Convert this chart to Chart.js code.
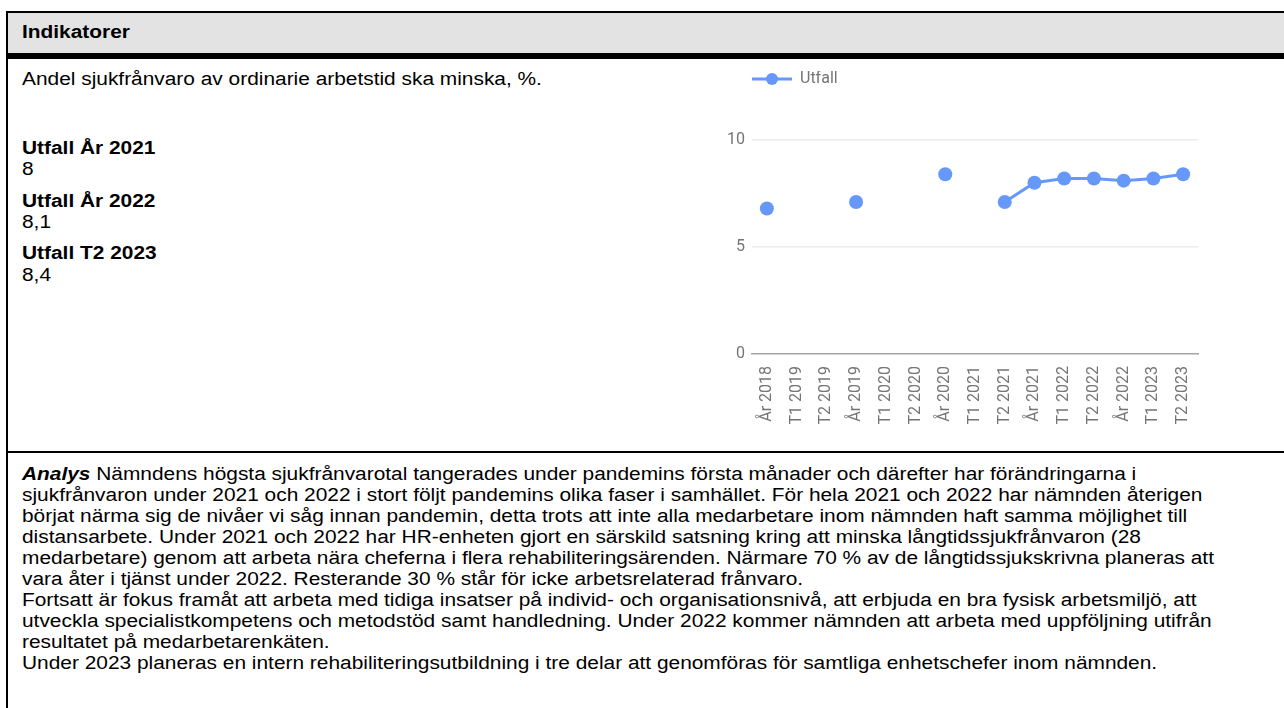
<!DOCTYPE html>
<html>
<head>
<meta charset="utf-8">
<script src="https://cdn.jsdelivr.net/npm/chart.js@4/dist/chart.umd.min.js"></script>
<style>
  html, body { margin: 0; padding: 0; background: #fff; }
  body { width: 1284px; height: 708px; position: relative; overflow: hidden;
         font-family: "Liberation Sans", Arial, sans-serif; color: #000; }
  .frame { position: absolute; left: 6px; top: 11px; width: 1300px; height: 720px;
           border-left: 2px solid #000; border-top: 2px solid #000; }
  .hdr { position: absolute; left: 0; top: 0; width: 100%; height: 40px; background: #e3e3e3;
         border-bottom: 6px solid #000; }
  .sx { transform: scaleX(1.16); transform-origin: 0 0; }
  .hdr span { position: absolute; left: 14px; top: 9px; font-weight: bold; font-size: 18px; line-height: 21px; white-space: nowrap; }
  .t { position: absolute; left: 14px; font-size: 18px; line-height: 21px; white-space: nowrap; }
  .b { font-weight: bold; }
  .sep { position: absolute; left: 0; top: 438px; width: 100%; height: 2px; background: #000; }
  .ana { position: absolute; left: 14px; top: 451px; font-size: 18px; line-height: 21px; white-space: nowrap; }
  #chartBox { position: absolute; left: 700px; top: 60px; width: 540px; height: 390px; }
</style>
</head>
<body>
<div class="frame">
  <div class="hdr"><span class="sx">Indikatorer</span></div>
  <div class="t sx" style="top:56px">Andel sjukfrånvaro av ordinarie arbetstid ska minska, %.</div>
  <div class="t b sx" style="top:125px">Utfall År 2021</div>
  <div class="t sx" style="top:146px">8</div>
  <div class="t b sx" style="top:178px">Utfall År 2022</div>
  <div class="t sx" style="top:199px">8,1</div>
  <div class="t b sx" style="top:230px">Utfall T2 2023</div>
  <div class="t sx" style="top:252px">8,4</div>
  <div class="sep"></div>
  <div class="ana sx"><b><i>Analys</i></b> Nämndens högsta sjukfrånvarotal tangerades under pandemins första månader och därefter har förändringarna i<br>sjukfrånvaron under 2021 och 2022 i stort följt pandemins olika faser i samhället. För hela 2021 och 2022 har nämnden återigen<br>börjat närma sig de nivåer vi såg innan pandemin, detta trots att inte alla medarbetare inom nämnden haft samma möjlighet till<br>distansarbete. Under 2021 och 2022 har HR-enheten gjort en särskild satsning kring att minska långtidssjukfrånvaron (28<br>medarbetare) genom att arbeta nära cheferna i flera rehabiliteringsärenden. Närmare 70 % av de långtidssjukskrivna planeras att<br>vara åter i tjänst under 2022. Resterande 30 % står för icke arbetsrelaterad frånvaro.<br>Fortsatt är fokus framåt att arbeta med tidiga insatser på individ- och organisationsnivå, att erbjuda en bra fysisk arbetsmiljö, att<br>utveckla specialistkompetens och metodstöd samt handledning. Under 2022 kommer nämnden att arbeta med uppföljning utifrån<br>resultatet på medarbetarenkäten.<br>Under 2023 planeras en intern rehabiliteringsutbildning i tre delar att genomföras för samtliga enhetschefer inom nämnden.</div>
</div>
<div id="chartBox"><canvas id="c"></canvas></div>
<script>
const categories = ["År 2018","T1 2019","T2 2019","År 2019","T1 2020","T2 2020","År 2020","T1 2021","T2 2021","År 2021","T1 2022","T2 2022","År 2022","T1 2023","T2 2023"];
const utfall = [6.8, null, null, 7.1, null, null, 8.4, null, 7.1, 8.0, 8.2, 8.2, 8.1, 8.2, 8.4];
const yTicks = [0, 5, 10];
const seriesName = "Utfall";
const blue = "#6598f9";

const icon = document.createElement('canvas');
icon.width = 40; icon.height = 16;
(function(){
  const g = icon.getContext('2d');
  g.strokeStyle = blue; g.lineWidth = 3;
  g.beginPath(); g.moveTo(0, 8); g.lineTo(40, 8); g.stroke();
  g.fillStyle = blue; g.beginPath(); g.arc(20, 8, 6, 0, Math.PI * 2); g.fill();
})();

const legendSpacer = {
  id: 'legendSpacer',
  afterInit(chart) {
    const lg = chart.legend;
    const f = lg.fit;
    lg.fit = function() { f.call(this); this.height += 43; };
  }
};

new Chart(document.getElementById('c'), {
  type: 'line',
  data: {
    labels: categories,
    datasets: [{
      label: seriesName,
      data: utfall,
      borderColor: blue,
      backgroundColor: blue,
      pointBackgroundColor: blue,
      pointBorderWidth: 0,
      pointRadius: 7,
      pointHoverRadius: 7,
      borderWidth: 3,
      spanGaps: false,
      tension: 0
    }]
  },
  options: {
    responsive: true,
    maintainAspectRatio: false,
    animation: false,
    layout: { padding: { top: 11, right: 42, bottom: 0, left: 0 } },
    plugins: {
      tooltip: { enabled: false },
      legend: {
        position: 'top',
        align: 'start',
        fullSize: false,
        labels: {
          usePointStyle: true,
          pointStyle: icon,
          pointStyleWidth: 40,
          padding: 0,
          color: '#757575',
          font: { family: 'Roboto', size: 16 }
        }
      }
    },
    scales: {
      x: {
        offset: true,
        afterFit(s) { s.height = 96; },
        grid: { display: false, offset: true },
        border: { display: true, color: '#a6a6a6', width: 1.5 },
        ticks: { minRotation: 90, maxRotation: 90, autoSkip: false, padding: 4,
                 color: '#757575', font: { family: 'Roboto', size: 16 } }
      },
      y: {
        min: 0, max: 10,
        afterFit(s) { s.width = 52; },
        afterBuildTicks(s) { s.ticks = yTicks.map(v => ({ value: v })); },
        border: { display: false },
        grid: { drawTicks: false, color: (ctx) => ctx.tick && ctx.tick.value === 0 ? 'rgba(0,0,0,0)' : '#ebebeb', lineWidth: 1.5 },
        ticks: { padding: 7, color: '#757575', font: { family: 'Roboto', size: 16 } }
      }
    }
  },
  plugins: [legendSpacer]
});
</script>
</body>
</html>
